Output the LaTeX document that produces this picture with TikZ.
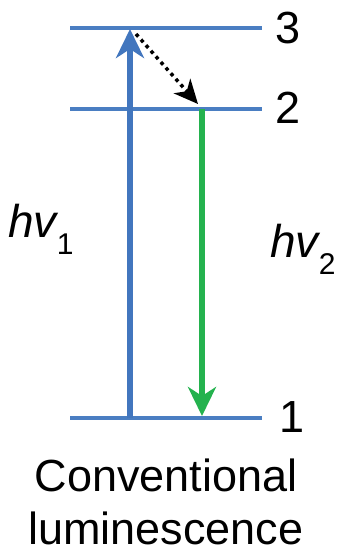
\documentclass[tikz,border=0pt]{standalone}
\usepackage{fontspec}
\setmainfont{Liberation Sans}
\usetikzlibrary{arrows.meta}
\definecolor{lvl}{RGB}{74,126,194}
\definecolor{absb}{RGB}{66,118,190}
\definecolor{emg}{RGB}{36,178,78}
\begin{document}
\begin{tikzpicture}[x=1pt,y=-1pt,
  level/.style={draw=lvl,line width=4pt},
  num/.style={anchor=west,inner sep=0pt,font=\fontsize{45}{45}\selectfont},
  photon/.style={anchor=base west,inner sep=0pt,font=\fontsize{46}{46}\selectfont\itshape},
  capt/.style={anchor=base,inner sep=0pt,font=\fontsize{45}{54}\selectfont},
  absarrow/.style={draw=absb,line width=6pt,-{Stealth[length=29pt,width=28pt,inset=9pt]}},
  emarrow/.style={draw=emg,line width=6pt,-{Stealth[length=29pt,width=28pt,inset=9pt]}},
  relax/.style={draw=black,line width=3.5pt,dash pattern=on 3.5pt off 4pt,-{Stealth[length=24pt,width=22pt,inset=7pt]}}]
\useasboundingbox (0,0) rectangle (343,555);
% level end points
\coordinate (L3a) at (70,28);  \coordinate (L3b) at (262,28);
\coordinate (L2a) at (70,109); \coordinate (L2b) at (262,109);
\coordinate (L1a) at (70,418); \coordinate (L1b) at (262,418);
\draw[level] (L3a) -- (L3b);
\draw[level] (L2a) -- (L2b);
\draw[level] (L1a) -- (L1b);
% level labels
\node[num] (n3) at (275,28) {3};
\node[num] (n2) at (275,108) {2};
\node[num] (n1) at (279,417) {1};
% transitions
\coordinate (ab0) at (130,418); \coordinate (ab1) at (130,29);
\coordinate (em0) at (202,109); \coordinate (em1) at (202,416);
\coordinate (rx0) at (136,34);  \coordinate (rx1) at (198,104);
\draw[absarrow] (ab0) -- (ab1);
\draw[emarrow] (em0) -- (em1);
\draw[relax] (rx0) -- (rx1);
% photon labels
\node[photon] (hv1) at (8,237) {hv\raisebox{-0.38em}{\fontsize{30}{30}\selectfont\upshape 1}};
\node[photon] (hv2) at (270,257) {hv\raisebox{-0.38em}{\fontsize{30}{30}\selectfont\upshape 2}};
% caption
\node[capt] (cap1) at (166,491) {Conventional};
\node[capt] (cap2) at (166,544) {luminescence};
\end{tikzpicture}
\end{document}
